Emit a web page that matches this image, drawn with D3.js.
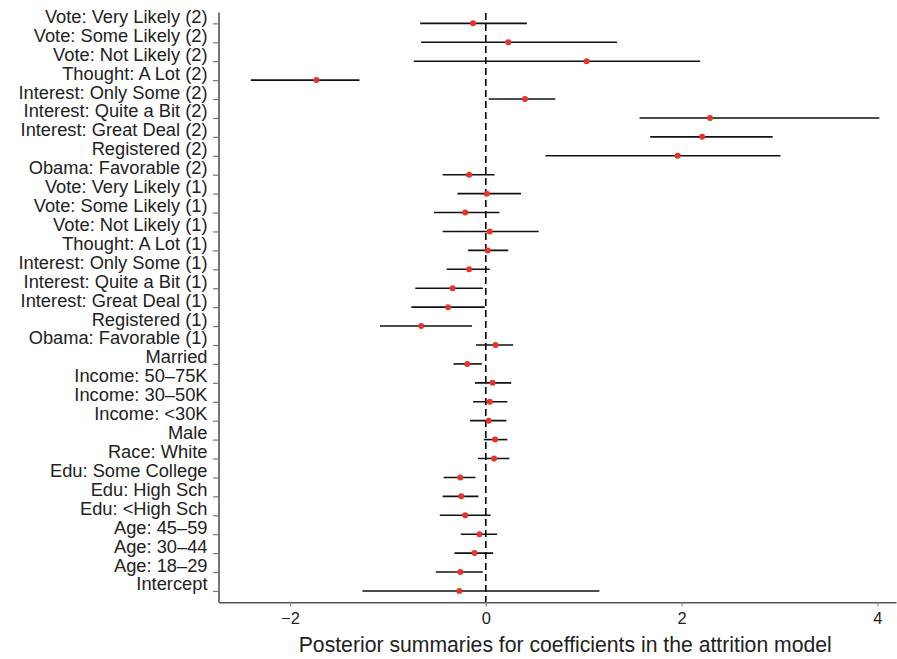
<!DOCTYPE html>
<html>
<head>
<meta charset="utf-8">
<script src="https://cdn.jsdelivr.net/npm/d3@7"></script>
<style>
  body { margin: 0; background: #fff; }
  svg text { font-family: "Liberation Sans", Arial, Helvetica, sans-serif; fill: #222; }
</style>
</head>
<body>
<svg id="chart" width="897" height="659"></svg>
<script>
// coefficient names, top to bottom
var terms = [
  "Vote: Very Likely (2)", "Vote: Some Likely (2)", "Vote: Not Likely (2)", "Thought: A Lot (2)",
  "Interest: Only Some (2)", "Interest: Quite a Bit (2)", "Interest: Great Deal (2)", "Registered (2)",
  "Obama: Favorable (2)", "Vote: Very Likely (1)", "Vote: Some Likely (1)", "Vote: Not Likely (1)",
  "Thought: A Lot (1)", "Interest: Only Some (1)", "Interest: Quite a Bit (1)", "Interest: Great Deal (1)",
  "Registered (1)", "Obama: Favorable (1)", "Married", "Income: 50\u201375K", "Income: 30\u201350K",
  "Income: <30K", "Male", "Race: White", "Edu: Some College", "Edu: High Sch", "Edu: <High Sch",
  "Age: 45\u201359", "Age: 30\u201344", "Age: 18\u201329", "Intercept"
];
// posterior means and interval ends
var est = [-0.13, 0.23, 1.03, -1.73, 0.40, 2.29, 2.21, 1.96, -0.17, 0.01, -0.21, 0.04, 0.02, -0.17,
  -0.34, -0.385, -0.66, 0.10, -0.19, 0.07, 0.04, 0.03, 0.095, 0.085, -0.26, -0.25, -0.21, -0.065,
  -0.115, -0.26, -0.27];
var lower = [-0.67, -0.66, -0.735, -2.40, 0.03, 1.57, 1.68, 0.61, -0.44, -0.29, -0.53, -0.44, -0.18,
  -0.40, -0.72, -0.76, -1.08, -0.10, -0.33, -0.11, -0.13, -0.16, -0.02, -0.08, -0.43, -0.44, -0.47,
  -0.255, -0.32, -0.51, -1.26];
var upper = [0.42, 1.34, 2.19, -1.29, 0.71, 4.02, 2.93, 3.01, 0.09, 0.36, 0.14, 0.54, 0.23, 0.04,
  -0.03, -0.01, -0.14, 0.28, -0.04, 0.26, 0.22, 0.21, 0.22, 0.24, -0.105, -0.075, 0.05, 0.115,
  0.075, -0.03, 1.16];
var xTicks = [-2, 0, 2, 4];

var data = terms.map((t, i) => ({term: t, est: est[i], lo: lower[i], hi: upper[i]}));

var svg = d3.select("#chart"),
    margin = {top: 12, right: 1, bottom: 57, left: 218.5},
    width = +svg.attr("width"),
    height = +svg.attr("height");

var x = d3.scaleLinear()
  .domain([-2.73, 4.19])
  .range([margin.left, width - margin.right]);

var y = d3.scalePoint()
  .domain(terms)
  .range([margin.top, height - margin.bottom + 0.3])
  .padding(0.6);

// y axis
var gy = svg.append("g")
  .attr("transform", "translate(" + margin.left + ",0)")
  .call(d3.axisLeft(y).tickSize(5.5).tickPadding(5.5).tickSizeOuter(0));
gy.select(".domain").attr("stroke", "#555").attr("stroke-width", 1.6);
gy.selectAll(".tick line").attr("stroke", "#777").attr("stroke-width", 1.2);
gy.selectAll(".tick text")
  .attr("dy", "-1px")
  .style("font-size", "18.3px")
  .attr("fill", "#222");

// x axis
var gx = svg.append("g")
  .attr("transform", "translate(0," + (height - margin.bottom + 0.3) + ")")
  .call(d3.axisBottom(x).tickValues(xTicks).tickSize(4).tickPadding(5.5).tickSizeOuter(0)
    .tickFormat(d => d < 0 ? "\u2212" + Math.abs(d) : d));
gx.select(".domain").attr("stroke", "#555").attr("stroke-width", 1.6);
gx.selectAll(".tick line").attr("stroke", "#888").attr("stroke-width", 1.2);
gx.selectAll(".tick text").style("font-size", "16.5px").attr("fill", "#222");

svg.append("text")
  .attr("x", (x(-2.73) + x(4.19)) / 2 + 8)
  .attr("y", 651.5)
  .attr("text-anchor", "middle")
  .style("font-size", "21.2px")
  .text("Posterior summaries for coefficients in the attrition model");

// zero reference line
svg.append("line")
  .attr("x1", x(0)).attr("x2", x(0))
  .attr("y1", 13).attr("y2", height - margin.bottom)
  .attr("stroke", "#000")
  .attr("stroke-width", 1.6)
  .attr("stroke-dasharray", "7,4");

// intervals
svg.append("g").selectAll("line")
  .data(data)
  .join("line")
    .attr("x1", d => x(d.lo))
    .attr("x2", d => x(d.hi))
    .attr("y1", d => y(d.term))
    .attr("y2", d => y(d.term))
    .attr("stroke", "#111")
    .attr("stroke-width", 1.6);

// point estimates
svg.append("g").selectAll("circle")
  .data(data)
  .join("circle")
    .attr("cx", d => x(d.est))
    .attr("cy", d => y(d.term))
    .attr("r", 3)
    .attr("fill", "#e8332c");
</script>
</body>
</html>
